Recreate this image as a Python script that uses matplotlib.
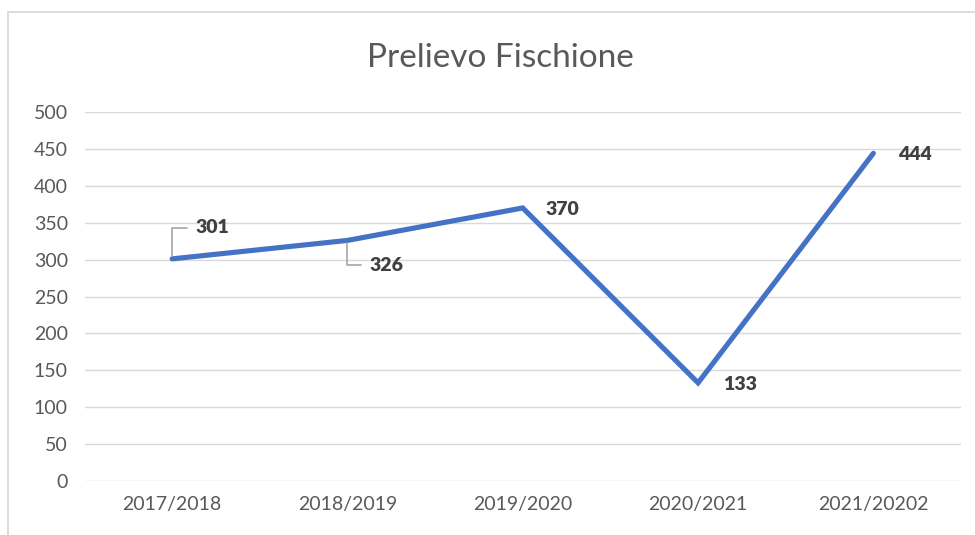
import matplotlib.pyplot as plt
from matplotlib.patches import Rectangle

# Dati
stagioni = ['2017/2018', '2018/2019', '2019/2020', '2020/2021', '2021/20202']
prelievo = [301, 326, 370, 133, 444]
yticks = list(range(0, 501, 50))

# offset delle etichette in pixel (dx, dy) e se serve una linea guida
label_offsets = [(23, 31), (22, -25), (23, -2), (25, -2), (25, -1)]
leader = [True, True, False, False, False]

plt.rcParams['font.family'] = ['Lato', 'DejaVu Sans']

fig = plt.figure(figsize=(9.75, 5.35), dpi=100)
ax = fig.add_axes([84.5 / 975, 54 / 535, (961 - 84.5) / 975, (481 - 112) / 535])

# bordo del grafico (tagliato a destra e in basso)
fig.patches.append(Rectangle((8 / 975, -0.1), 1.2, (535 - 12) / 535 + 0.1,
                             transform=fig.transFigure, fill=False,
                             edgecolor='#d9d9d9', linewidth=1.3))

x = list(range(len(stagioni)))
ax.plot(x, prelievo, color='#4472C4', linewidth=3.7, solid_capstyle='round',
        solid_joinstyle='miter', zorder=3)

for i, v in enumerate(prelievo):
    dx, dy = label_offsets[i]
    kw = {}
    if leader[i]:
        kw['arrowprops'] = dict(arrowstyle='-', color='#a6a6a6', lw=1.2,
                                connectionstyle='angle,angleA=0,angleB=90,rad=0',
                                relpos=(0, 0.5), shrinkA=4, shrinkB=2)
    ax.annotate(str(v), xy=(i, v), xytext=(dx, dy), textcoords='offset pixels',
                ha='left', va='center', fontsize=14, fontweight='heavy',
                color='#404040', zorder=4, **kw)

ax.set_xlim(-0.5, len(stagioni) - 0.5)
ax.set_ylim(0, 500)
ax.set_yticks(yticks)
ax.set_xticks(x)
ax.set_xticklabels(stagioni)
ax.grid(axis='y', color='#d9d9d9', linewidth=1)
ax.set_axisbelow(True)
for s in ax.spines.values():
    s.set_visible(False)
ax.tick_params(axis='both', length=0, labelsize=14, labelcolor='#595959')
ax.tick_params(axis='x', pad=11)
ax.tick_params(axis='y', pad=12)

fig.text(500 / 975, 1 - 58 / 535, 'Prelievo Fischione', ha='center', va='center',
         fontsize=24, color='#595959')

fig.savefig('out.png', dpi=100)
